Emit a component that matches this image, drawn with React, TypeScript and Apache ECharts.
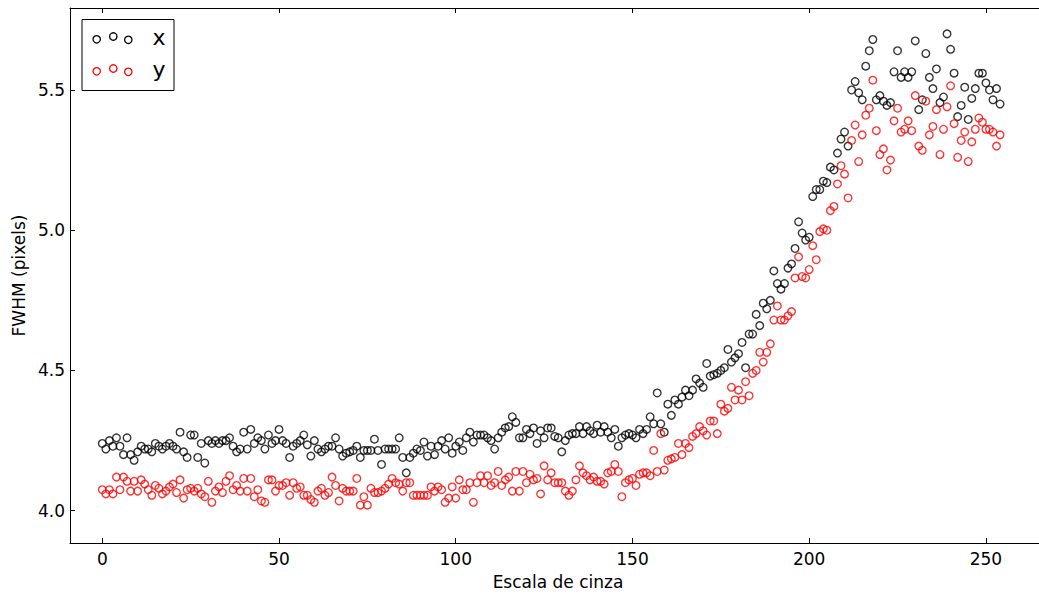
import React, { useEffect, useRef } from "react";
import * as echarts from "echarts";

const xTicks = [0, 50, 100, 150, 200, 250];
const yTicks = [4.0, 4.5, 5.0, 5.5];
const seriesNames = ["x", "y"];
const xAxisTitle = "Escala de cinza";
const yAxisTitle = "FWHM (pixels)";

// FWHM along x, one value per grey level 0..254
const fwhmX = [
  4.24, 4.22, 4.25, 4.23, 4.26, 4.23, 4.20, 4.26, 4.20, 4.18,
  4.21, 4.23, 4.22, 4.22, 4.21, 4.24, 4.23, 4.22, 4.23, 4.24,
  4.23, 4.22, 4.28, 4.21, 4.19, 4.27, 4.27, 4.19, 4.24, 4.17,
  4.25, 4.24, 4.25, 4.24, 4.25, 4.25, 4.26, 4.23, 4.21, 4.22,
  4.28, 4.22, 4.29, 4.24, 4.26, 4.25, 4.22, 4.27, 4.24, 4.25,
  4.29, 4.25, 4.24, 4.19, 4.23, 4.24, 4.25, 4.27, 4.235, 4.195,
  4.25, 4.22, 4.21, 4.22, 4.23, 4.23, 4.26, 4.22, 4.195, 4.205,
  4.21, 4.215, 4.23, 4.19, 4.215, 4.215, 4.215, 4.255, 4.215, 4.165,
  4.22, 4.22, 4.22, 4.22, 4.26, 4.19, 4.135, 4.19, 4.205, 4.22,
  4.215, 4.245, 4.195, 4.23, 4.20, 4.23, 4.25, 4.22, 4.26, 4.205,
  4.23, 4.245, 4.215, 4.26, 4.28, 4.245, 4.27, 4.27, 4.27, 4.26,
  4.25, 4.22, 4.26, 4.28, 4.295, 4.30, 4.335, 4.315, 4.26, 4.26,
  4.29, 4.275, 4.295, 4.24, 4.285, 4.26, 4.295, 4.295, 4.265, 4.26,
  4.21, 4.25, 4.27, 4.275, 4.275, 4.30, 4.275, 4.30, 4.285, 4.275,
  4.305, 4.28, 4.30, 4.28, 4.26, 4.29, 4.23, 4.26, 4.27, 4.275,
  4.27, 4.26, 4.29, 4.275, 4.29, 4.335, 4.31, 4.42, 4.31, 4.28,
  4.38, 4.34, 4.395, 4.38, 4.405, 4.43, 4.41, 4.43, 4.47, 4.455,
  4.44, 4.525, 4.48, 4.485, 4.49, 4.50, 4.51, 4.575, 4.53, 4.545,
  4.56, 4.60, 4.51, 4.63, 4.63, 4.70, 4.66, 4.74, 4.72, 4.75,
  4.855, 4.81, 4.79, 4.81, 4.865, 4.88, 4.935, 5.03, 4.99, 4.965,
  4.975, 5.12, 5.145, 5.145, 5.175, 5.17, 5.225, 5.215, 5.275, 5.325,
  5.35, 5.30, 5.50, 5.53, 5.49, 5.465, 5.585, 5.64, 5.68, 5.465,
  5.48, 5.46, 5.445, 5.455, 5.565, 5.64, 5.545, 5.565, 5.545, 5.565,
  5.675, 5.43, 5.465, 5.63, 5.545, 5.505, 5.575, 5.455, 5.475, 5.70,
  5.645, 5.56, 5.405, 5.445, 5.51, 5.395, 5.47, 5.505, 5.56, 5.56,
  5.525, 5.50, 5.465, 5.505, 5.45,
];

// FWHM along y, one value per grey level 0..254
const fwhmY = [
  4.075, 4.06, 4.075, 4.06, 4.12, 4.075, 4.12, 4.105, 4.07, 4.105,
  4.07, 4.11, 4.095, 4.075, 4.055, 4.09, 4.08, 4.06, 4.07, 4.085,
  4.095, 4.065, 4.11, 4.045, 4.075, 4.08, 4.07, 4.08, 4.06, 4.05,
  4.105, 4.03, 4.07, 4.085, 4.065, 4.105, 4.125, 4.075, 4.09, 4.07,
  4.115, 4.07, 4.115, 4.05, 4.075, 4.035, 4.03, 4.11, 4.11, 4.07,
  4.09, 4.09, 4.10, 4.055, 4.10, 4.08, 4.085, 4.055, 4.055, 4.04,
  4.03, 4.07, 4.08, 4.055, 4.065, 4.12, 4.09, 4.035, 4.08, 4.07,
  4.07, 4.07, 4.115, 4.02, 4.05, 4.02, 4.08, 4.065, 4.065, 4.07,
  4.08, 4.095, 4.115, 4.10, 4.095, 4.07, 4.10, 4.10, 4.055, 4.055,
  4.055, 4.055, 4.055, 4.085, 4.07, 4.085, 4.075, 4.03, 4.045, 4.085,
  4.045, 4.11, 4.075, 4.075, 4.10, 4.03, 4.10, 4.125, 4.10, 4.125,
  4.09, 4.10, 4.14, 4.09, 4.11, 4.12, 4.07, 4.14, 4.07, 4.14,
  4.10, 4.13, 4.11, 4.115, 4.06, 4.16, 4.11, 4.135, 4.10, 4.10,
  4.10, 4.07, 4.055, 4.07, 4.11, 4.16, 4.135, 4.125, 4.11, 4.12,
  4.105, 4.105, 4.095, 4.135, 4.14, 4.165, 4.14, 4.05, 4.10, 4.11,
  4.115, 4.09, 4.13, 4.135, 4.135, 4.125, 4.215, 4.14, 4.275, 4.145,
  4.18, 4.185, 4.19, 4.24, 4.20, 4.24, 4.225, 4.265, 4.275, 4.30,
  4.285, 4.27, 4.32, 4.32, 4.275, 4.38, 4.355, 4.365, 4.44, 4.395,
  4.43, 4.395, 4.46, 4.41, 4.49, 4.50, 4.565, 4.53, 4.565, 4.595,
  4.68, 4.73, 4.68, 4.68, 4.695, 4.71, 4.83, 4.905, 4.835, 4.83,
  4.86, 4.945, 4.895, 4.995, 5.005, 5.00, 5.07, 5.085, 5.165, 5.23,
  5.20, 5.115, 5.32, 5.375, 5.245, 5.34, 5.41, 5.435, 5.535, 5.355,
  5.27, 5.29, 5.215, 5.25, 5.39, 5.435, 5.35, 5.36, 5.39, 5.355,
  5.48, 5.30, 5.285, 5.46, 5.34, 5.37, 5.43, 5.27, 5.36, 5.44,
  5.515, 5.38, 5.26, 5.32, 5.35, 5.245, 5.315, 5.36, 5.40, 5.385,
  5.36, 5.36, 5.35, 5.30, 5.34,
];

const seriesColors = ["#000000", "#ff0000"];

export default function App() {
  const ref = useRef<HTMLDivElement>(null);

  useEffect(() => {
    if (!ref.current) return;
    const chart = echarts.init(ref.current, null, { renderer: "svg" });
    const font = "DejaVu Sans";
    const X_MIN = -9.14;
    const X_MAX = 267;
    const Y_MIN = 3.885;
    const Y_MAX = 5.7923;
    const lineStyle = { color: "#000", width: 1 };

    const baseX = {
      type: "value",
      min: X_MIN,
      max: X_MAX,
      splitLine: { show: false },
      axisLine: { show: true, onZero: false, lineStyle },
      axisTick: { show: true, inside: true, length: 5, customValues: xTicks, lineStyle },
    };
    const baseY = {
      type: "value",
      min: Y_MIN,
      max: Y_MAX,
      splitLine: { show: false },
      axisLine: { show: true, onZero: false, lineStyle },
      axisTick: { show: true, inside: true, length: 5, customValues: yTicks, lineStyle },
    };

    const legendRows = seriesNames.map((name, k) => {
      const rowY = 38 + k * 32;
      const color = seriesColors[k];
      const offs = [1.3, -1.5, 1.8];
      const xs = [96.7, 113.3, 128.3];
      return [
        ...xs.map((cx, j) => ({
          type: "circle",
          z: 101,
          shape: { cx, cy: rowY + offs[j], r: 3.7 },
          style: { fill: "rgba(0,0,0,0)", stroke: color, lineWidth: 1.3 },
        })),
        {
          type: "text",
          z: 101,
          x: 152.5,
          y: 37 + k * 32.5,
          style: {
            text: name,
            fill: "#000",
            font: `22px "${font}"`,
            align: "left",
            verticalAlign: "middle",
          },
        },
      ];
    });

    chart.setOption({
      animation: false,
      backgroundColor: "#ffffff",
      textStyle: { fontFamily: font },
      grid: { left: 70, top: 8, width: 976, height: 535, containLabel: false },
      xAxis: [
        {
          ...baseX,
          position: "bottom",
          name: xAxisTitle,
          nameLocation: "middle",
          nameGap: 30,
          nameTextStyle: { color: "#000", fontSize: 17, fontFamily: font },
          axisLabel: {
            customValues: xTicks,
            color: "#000",
            fontSize: 17,
            fontFamily: font,
            margin: 7,
          },
        },
        {
          ...baseX,
          position: "top",
          axisLabel: { show: false },
        },
      ],
      yAxis: [
        {
          ...baseY,
          position: "left",
          name: yAxisTitle,
          nameLocation: "middle",
          nameGap: 42,
          nameRotate: 90,
          nameTextStyle: { color: "#000", fontSize: 17, fontFamily: font },
          axisLabel: {
            customValues: yTicks,
            color: "#000",
            fontSize: 17,
            fontFamily: font,
            margin: 5,
            formatter: (v: number) => v.toFixed(1),
          },
        },
        {
          ...baseY,
          position: "right",
          axisLabel: { show: false },
        },
      ],
      series: [fwhmX, fwhmY].map((vals, k) => ({
        type: "scatter",
        name: seriesNames[k],
        xAxisIndex: 0,
        yAxisIndex: 0,
        data: vals.map((v, i) => [i, v]),
        symbol: "circle",
        symbolSize: 7.6,
        itemStyle: {
          color: "rgba(0,0,0,0)",
          borderColor: seriesColors[k],
          borderWidth: 1.35,
        },
        emphasis: { disabled: true },
      })),
      graphic: [
        {
          type: "rect",
          z: 100,
          shape: { x: 82, y: 19.5, width: 92, height: 71 },
          style: { fill: "#ffffff", stroke: "#000", lineWidth: 1 },
        },
        ...legendRows.flat(),
      ],
    });

    return () => chart.dispose();
  }, []);

  return (
    <div
      style={{
        position: "fixed",
        left: 0,
        top: 0,
        width: 1039,
        height: 595,
        overflow: "hidden",
        background: "#fff",
      }}
    >
      <div ref={ref} style={{ width: 1060, height: 595 }} />
    </div>
  );
}
